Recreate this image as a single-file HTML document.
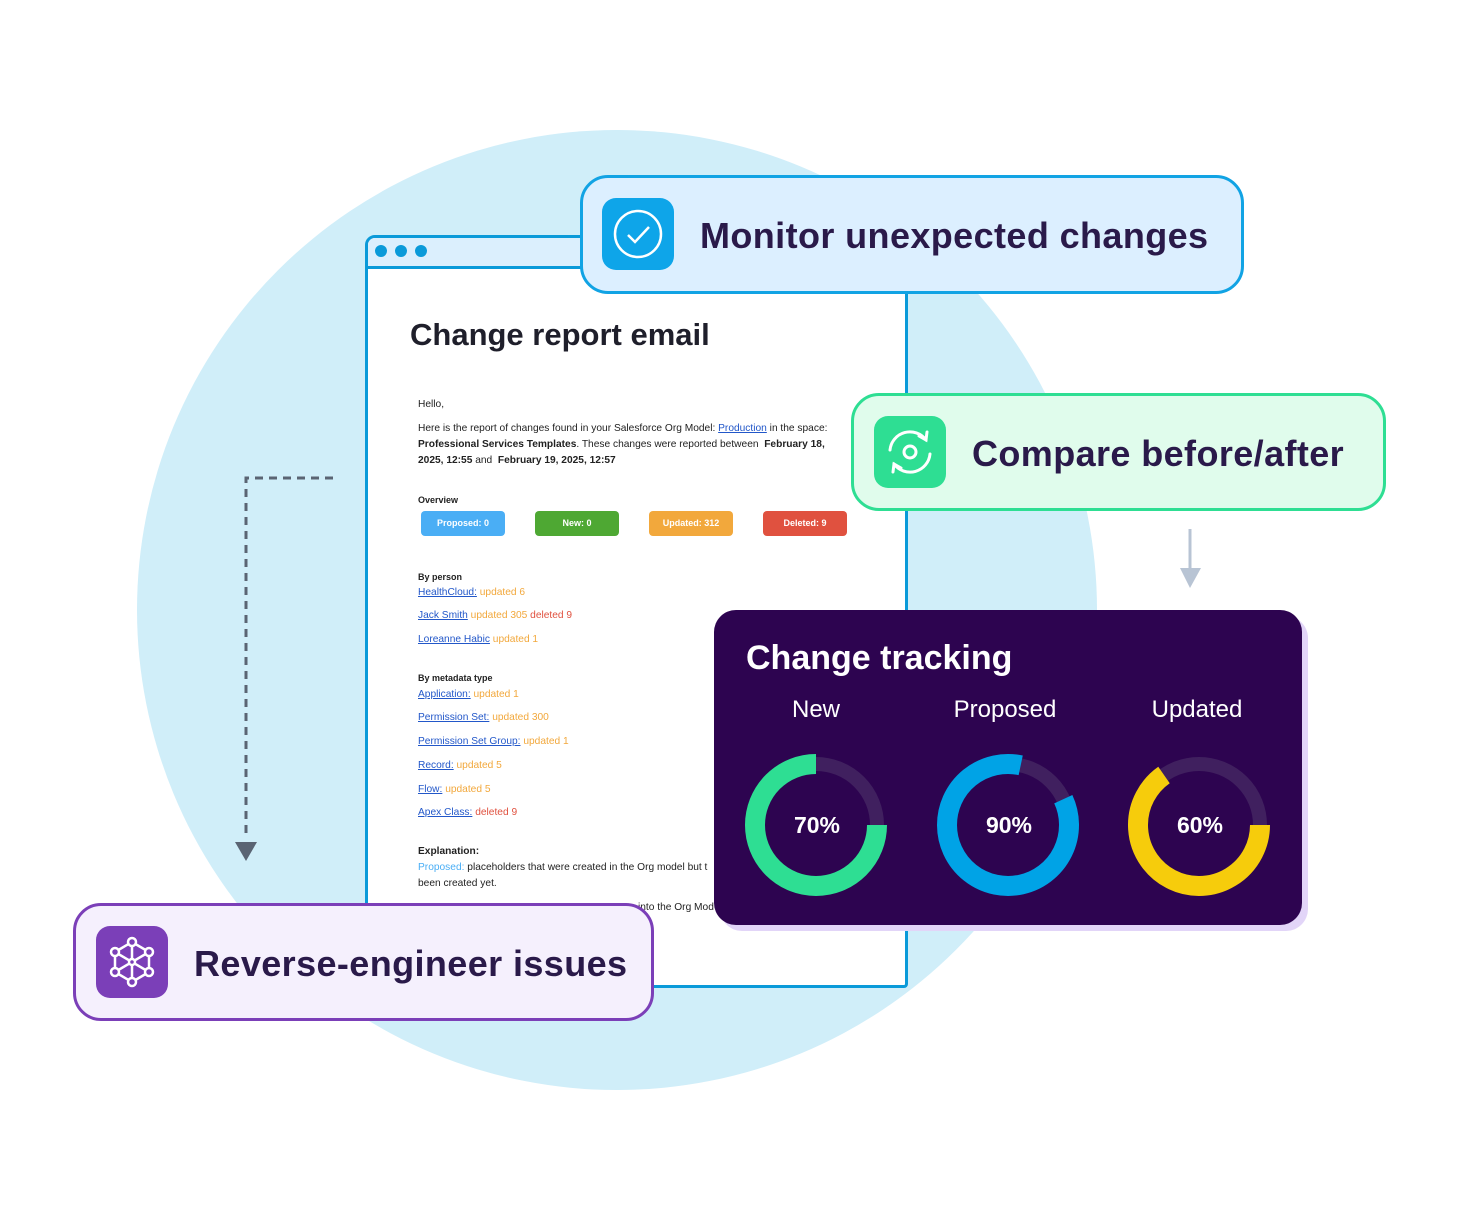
<!DOCTYPE html>
<html><head><meta charset="utf-8"><style>
*{margin:0;padding:0;box-sizing:border-box}
body{width:1460px;height:1220px;background:#fff;position:relative;overflow:hidden;font-family:"Liberation Sans",sans-serif}
.abs{position:absolute}
.em{font-size:10.2px;color:#222;line-height:16px;position:absolute;left:418px;white-space:nowrap}
.em a{color:#2257c9;text-decoration:underline}
.o{color:#f2a83c}.r{color:#e0513f}.b{font-weight:bold}
.btn{position:absolute;top:511px;width:84px;height:25px;border-radius:4px;color:#fff;font-size:9px;font-weight:bold;text-align:center;line-height:25px}
.box{position:absolute;border:3px solid;border-radius:28px}
.icon{position:absolute;width:72px;height:72px;border-radius:14px}
.lbl{position:absolute;font-weight:bold;color:#2a1a4a;font-size:36px;letter-spacing:0.4px;white-space:nowrap}
</style></head><body>
<div class="abs" style="left:137px;top:130px;width:960px;height:960px;border-radius:50%;background:#d0eef9"></div>

<svg class="abs" style="left:0;top:0" width="1460" height="1220">
<path d="M333 478 H246 V838" fill="none" stroke="#5a6473" stroke-width="3" stroke-dasharray="8 6"/>
<polygon points="235,842 257,842 246,861" fill="#5a6473"/>
<line x1="1190" y1="529" x2="1190" y2="570" stroke="#b8c4d4" stroke-width="3"/>
<polygon points="1180,568 1201,568 1190,588" fill="#b8c4d4"/>
</svg>

<!-- browser -->
<div class="abs" style="left:365px;top:235px;width:543px;height:753px;border:3px solid #0a9ad9;border-radius:10px 10px 4px 4px;background:#fff;overflow:hidden">
<div style="height:31px;background:#dbeffd;border-bottom:3px solid #0a9ad9"></div>
</div>
<div class="abs" style="left:375px;top:245px;width:12px;height:12px;border-radius:50%;background:#0a9ad9"></div>
<div class="abs" style="left:395px;top:245px;width:12px;height:12px;border-radius:50%;background:#0a9ad9"></div>
<div class="abs" style="left:415px;top:245px;width:12px;height:12px;border-radius:50%;background:#0a9ad9"></div>
<div class="abs" style="left:410px;top:317px;font-size:31px;font-weight:bold;color:#1f1f2b;white-space:nowrap">Change report email</div>

<div class="em" style="top:397px">Hello,</div>
<div class="em" style="top:421px">Here is the report of changes found in your Salesforce Org Model: <a>Production</a> in the space:</div>
<div class="em" style="top:437px"><b>Professional Services Templates</b>. These changes were reported between &nbsp;<b>February 18,</b></div>
<div class="em" style="top:453px"><b>2025, 12:55</b> and &nbsp;<b>February 19, 2025, 12:57</b></div>
<div class="em b" style="top:492px;font-size:9px">Overview</div>
<div class="btn" style="left:421px;background:#4aaef5">Proposed: 0</div>
<div class="btn" style="left:535px;background:#4ea833">New: 0</div>
<div class="btn" style="left:649px;background:#f2a83c">Updated: 312</div>
<div class="btn" style="left:763px;background:#e0513f">Deleted: 9</div>
<div class="em b" style="top:569px;font-size:9px">By person</div>
<div class="em" style="top:585px"><a>HealthCloud:</a> <span class="o">updated 6</span></div>
<div class="em" style="top:608px"><a>Jack Smith</a> <span class="o">updated 305</span> <span class="r">deleted 9</span></div>
<div class="em" style="top:632px"><a>Loreanne Habic</a> <span class="o">updated 1</span></div>
<div class="em b" style="top:670px;font-size:9px">By metadata type</div>
<div class="em" style="top:687px"><a>Application:</a> <span class="o">updated 1</span></div>
<div class="em" style="top:710px"><a>Permission Set:</a> <span class="o">updated 300</span></div>
<div class="em" style="top:734px"><a>Permission Set Group:</a> <span class="o">updated 1</span></div>
<div class="em" style="top:758px"><a>Record:</a> <span class="o">updated 5</span></div>
<div class="em" style="top:782px"><a>Flow:</a> <span class="o">updated 5</span></div>
<div class="em" style="top:805px"><a>Apex Class:</a> <span class="r">deleted 9</span></div>
<div class="em b" style="top:844px">Explanation:</div>
<div class="em" style="top:860px"><span style="color:#4aaef5">Proposed:</span> placeholders that were created in the Org model but t</div>
<div class="em" style="top:876px">been created yet.</div>
<div class="em" style="top:900px;left:638px">into the Org Mod</div>

<!-- monitor -->
<div class="box" style="left:580px;top:175px;width:664px;height:119px;border-color:#11a3e4;background:#dcefff"></div>
<div class="icon" style="left:602px;top:198px;background:#0ea5e9"></div>
<svg class="abs" style="left:602px;top:198px" width="72" height="72"><circle cx="36" cy="36" r="23" fill="none" stroke="#fff" stroke-width="2.5"/><path d="M26 37 L33 44 L47 29" fill="none" stroke="#fff" stroke-width="2.5"/></svg>
<div class="lbl" style="left:700px;top:215px">Monitor unexpected changes</div>

<!-- compare -->
<div class="box" style="left:851px;top:393px;width:535px;height:118px;border-color:#2ede93;background:#e0fcec"></div>
<div class="icon" style="left:874px;top:416px;background:#2ede93"></div>
<svg class="abs" style="left:874px;top:416px" width="72" height="72" fill="none" stroke="#fff" stroke-width="3" stroke-linecap="round"><circle cx="36" cy="36" r="6"/><path d="M16 34 A20 20 0 0 1 52 24"/><path d="M45 20 L52 24 L53 16"/><path d="M56 38 A20 20 0 0 1 20 48"/><path d="M27 52 L20 48 L19 56"/></svg>
<div class="lbl" style="left:972px;top:433px">Compare before/after</div>

<!-- change tracking -->
<div class="abs" style="left:720px;top:616px;width:588px;height:315px;border-radius:22px;background:#e2d5f8"></div>
<div class="abs" style="left:714px;top:610px;width:588px;height:315px;border-radius:22px;background:#2d0450"></div>
<div class="abs" style="left:746px;top:639px;font-size:34px;font-weight:bold;color:#fff;white-space:nowrap">Change tracking</div>
<div class="abs" style="left:716px;width:200px;top:696px;text-align:center;font-size:24px;color:#fff">New</div>
<div class="abs" style="left:905px;width:200px;top:696px;text-align:center;font-size:24px;color:#fff">Proposed</div>
<div class="abs" style="left:1097px;width:200px;top:696px;text-align:center;font-size:24px;color:#fff">Updated</div>
<svg class="abs" style="left:0;top:0" width="1460" height="1220" fill="none">
<g stroke="#40205f" stroke-width="14"><circle cx="816" cy="825" r="61"/><circle cx="1008" cy="825" r="61"/><circle cx="1199" cy="825" r="61"/></g>
<path d="M877 825 A61 61 0 1 1 816 764" stroke="#2ede93" stroke-width="20"/>
<path d="M1063.3 799.2 A61 61 0 1 1 1020.7 765.3" stroke="#00a3e6" stroke-width="20"/>
<path d="M1260 825 A61 61 0 1 1 1164 775" stroke="#f6cc0c" stroke-width="20"/>
<g fill="#fff" font-family="Liberation Sans" font-weight="bold" font-size="23" text-anchor="middle"><text x="817" y="833">70%</text><text x="1009" y="833">90%</text><text x="1200" y="833">60%</text></g>
</svg>

<!-- reverse -->
<div class="box" style="left:73px;top:903px;width:581px;height:118px;border-color:#7b3fb8;background:#f5f0fd"></div>
<div class="icon" style="left:96px;top:926px;background:#7b3fb8"></div>
<svg class="abs" style="left:96px;top:926px" width="72" height="72" fill="none" stroke="#fff" stroke-width="2.5"><path d="M36 16 L53 26 L53 46 L36 56 L19 46 L19 26 Z M36 16 L36 56 M19 26 L53 46 M53 26 L19 46"/><g fill="#7b3fb8"><circle cx="36" cy="16" r="4"/><circle cx="53" cy="26" r="4"/><circle cx="53" cy="46" r="4"/><circle cx="36" cy="56" r="4"/><circle cx="19" cy="46" r="4"/><circle cx="19" cy="26" r="4"/><circle cx="36" cy="36" r="3"/></g></svg>
<div class="lbl" style="left:194px;top:943px">Reverse-engineer issues</div>
</body></html>
